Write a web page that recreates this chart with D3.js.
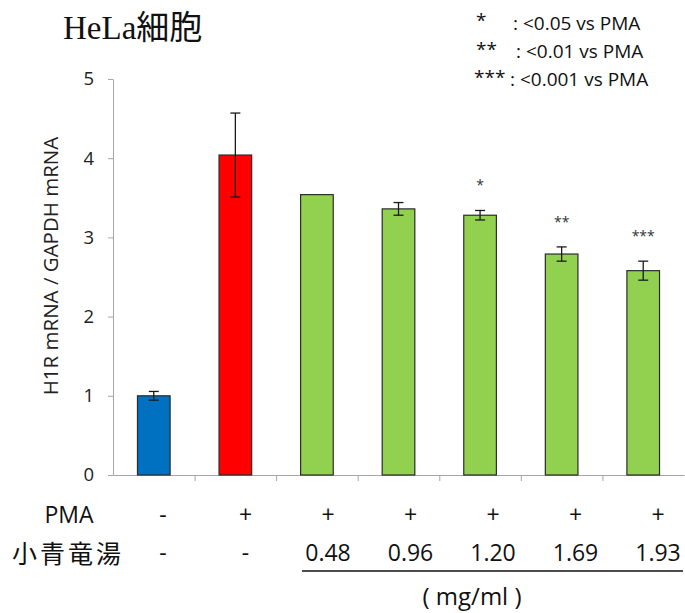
<!DOCTYPE html>
<html>
<head>
<meta charset="utf-8">
<script src="https://cdn.jsdelivr.net/npm/d3@7"></script>
<style>
  html, body { margin: 0; padding: 0; background: #fff; }
  svg { display: block; }
</style>
</head>
<body>
<svg id="chart" width="685" height="613"></svg>
<script>
// H1R mRNA expression in HeLa cells (relative to GAPDH)
const groups   = ["control", "PMA", "0.48", "0.96", "1.20", "1.69", "1.93"];
const means    = [1.00, 4.04, 3.54, 3.36, 3.28, 2.79, 2.58];
const sems     = [0.055, 0.53, 0, 0.08, 0.06, 0.09, 0.12];
const fills    = ["#0070C0", "#FF0000", "#92D050", "#92D050", "#92D050", "#92D050", "#92D050"];
const stars    = ["", "", "", "", "*", "**", "***"];
const pmaRow   = ["-", "+", "+", "+", "+", "+", "+"];
const doseRow  = ["-", "-", "0.48", "0.96", "1.20", "1.69", "1.93"];
const yTicks   = [0, 1, 2, 3, 4, 5];
const legendRows = [
  ["*",   ": <0.05 vs PMA"],
  ["**",  ": <0.01 vs PMA"],
  ["***", ": <0.001 vs PMA"]
];

const svg = d3.select("#chart");
const sans = "'Open Sans', 'Noto Sans', sans-serif";
const cjk = "'Noto Sans CJK JP', 'Noto Sans', sans-serif";

const plotLeft = 113, plotRight = 684, plotTop = 79, plotBottom = 475;

const x = d3.scaleBand()
  .domain(d3.range(groups.length))
  .range([plotLeft, plotRight])
  .paddingInner(0.6)
  .paddingOuter(0.3);

const y = d3.scaleLinear().domain([0, 5]).range([plotBottom, plotTop]);

// category boundaries for x-axis tick marks
const xb = d3.scaleLinear().domain([0, groups.length]).range([plotLeft, plotRight]);

// Y axis
const yAxis = svg.append("g")
  .attr("transform", `translate(${plotLeft},0)`)
  .call(d3.axisLeft(y).tickValues(yTicks).tickSize(5).tickSizeOuter(0).tickPadding(14).tickFormat(d3.format("d")));
yAxis.select(".domain").attr("stroke", "#a6a6a6");
yAxis.selectAll(".tick line").attr("stroke", "#a6a6a6");
yAxis.selectAll(".tick text")
  .attr("font-family", sans).attr("font-size", 18.5).attr("fill", "#222");

// X axis
const xAxis = svg.append("g")
  .attr("transform", `translate(0,${plotBottom})`)
  .call(d3.axisBottom(xb).tickValues(d3.range(1, groups.length)).tickSize(6).tickSizeOuter(0).tickFormat(""));
xAxis.select(".domain").attr("stroke", "#a6a6a6");
xAxis.selectAll(".tick line").attr("stroke", "#a6a6a6");

// Bars
svg.append("g").selectAll("rect")
  .data(means)
  .join("rect")
  .attr("x", (d, i) => x(i))
  .attr("y", d => y(d))
  .attr("width", x.bandwidth())
  .attr("height", d => y(0) - y(d))
  .attr("fill", (d, i) => fills[i])
  .attr("stroke", "#2b2b2b")
  .attr("stroke-width", 1.2);

// Error bars
const eb = svg.append("g").attr("stroke", "#1a1a1a").attr("stroke-width", 1.3);
means.forEach((m, i) => {
  const e = sems[i];
  if (!e) return;
  const cx = x(i) + x.bandwidth() / 2;
  eb.append("line").attr("x1", cx).attr("x2", cx).attr("y1", y(m - e)).attr("y2", y(m + e));
  eb.append("line").attr("x1", cx - 5).attr("x2", cx + 5).attr("y1", y(m + e)).attr("y2", y(m + e));
  eb.append("line").attr("x1", cx - 5).attr("x2", cx + 5).attr("y1", y(m - e)).attr("y2", y(m - e));
});

// Significance marks
svg.append("g").selectAll("text")
  .data(stars)
  .join("text")
  .attr("x", (d, i) => x(i) + x.bandwidth() / 2)
  .attr("y", (d, i) => y(means[i] + sems[i]) - 20)
  .attr("text-anchor", "middle")
  .attr("font-family", sans)
  .attr("font-size", 14)
  .attr("fill", "#333")
  .text(d => d);

// Y axis title
svg.append("text")
  .attr("transform", "translate(58,266) rotate(-90)")
  .attr("text-anchor", "middle")
  .attr("font-family", sans)
  .attr("font-size", 20.5)
  .attr("fill", "#222")
  .text("H1R mRNA / GAPDH mRNA");

// Chart title
svg.append("text")
  .attr("x", 63).attr("y", 39)
  .attr("font-family", "'Liberation Serif', 'Noto Sans CJK JP', serif")
  .attr("font-size", 33)
  .attr("fill", "#111")
  .text("HeLa細胞");

// Legend for significance marks
const lg = svg.append("g").attr("font-family", sans).attr("font-size", 19).attr("fill", "#111");
legendRows.forEach((r, k) => {
  const yy = 30 + k * 28;
  lg.append("text").attr("x", k === 2 ? 474 : 476).attr("y", yy - (k === 0 ? 3 : 2)).text(r[0]);
  lg.append("text").attr("x", k === 2 ? 510 : (k === 1 ? 516 : 513)).attr("y", yy).text(r[1]);
});

// Treatment table below the axis
const col = d3.scalePoint().domain(d3.range(groups.length)).range([163, 658]);
const tbl = svg.append("g").attr("fill", "#111");

tbl.append("text").attr("x", 69).attr("y", 523).attr("text-anchor", "middle")
  .attr("font-family", sans).attr("font-size", 23).text("PMA");
tbl.append("text").attr("x", 68).attr("y", 563).attr("text-anchor", "middle")
  .attr("font-family", cjk).attr("font-size", 25).attr("letter-spacing", 3).text("小青竜湯");

tbl.selectAll("text.pma")
  .data(pmaRow).join("text").attr("class", "pma")
  .attr("x", (d, i) => col(i)).attr("y", 523)
  .attr("text-anchor", "middle").attr("font-family", sans).attr("font-size", 23)
  .text(d => d);

tbl.selectAll("text.dose")
  .data(doseRow).join("text").attr("class", "dose")
  .attr("x", (d, i) => col(i)).attr("y", 561)
  .attr("text-anchor", "middle").attr("font-family", sans).attr("font-size", 23)
  .text(d => d);

tbl.append("line")
  .attr("x1", 302).attr("x2", 683).attr("y1", 571).attr("y2", 571)
  .attr("stroke", "#111").attr("stroke-width", 1.5);

tbl.append("text").attr("x", 472).attr("y", 605).attr("text-anchor", "middle")
  .attr("font-family", sans).attr("font-size", 24).text("( mg/ml )");
</script>
</body>
</html>
